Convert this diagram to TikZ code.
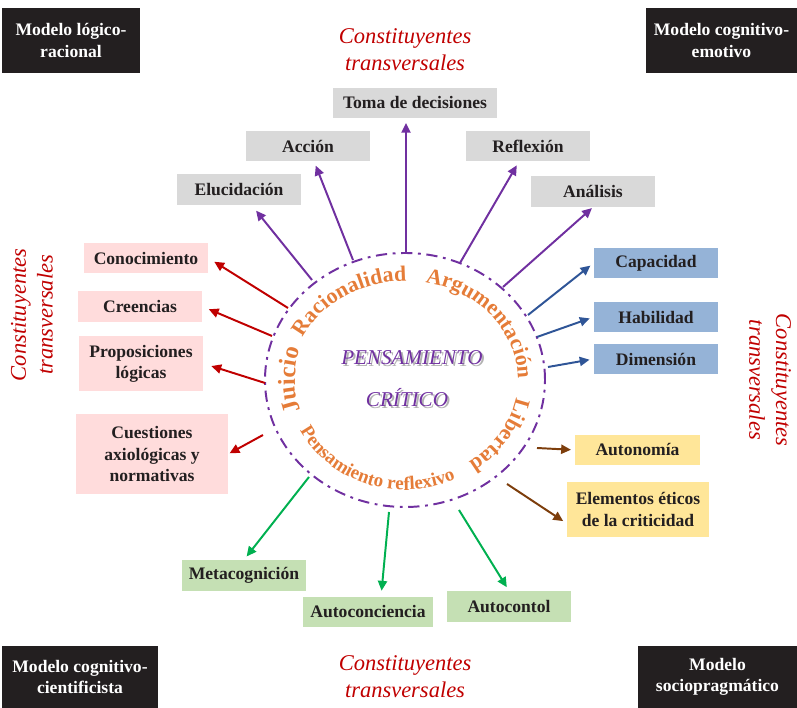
\documentclass[tikz,border=0pt]{standalone}
\usepackage{fontspec}
\setmainfont{Liberation Serif}
\usetikzlibrary{arrows.meta,calc,decorations.text}
\definecolor{boxtext}{HTML}{231F20}
\definecolor{modelfill}{HTML}{231F20}
\definecolor{greyfill}{HTML}{D9D9D9}
\definecolor{pinkfill}{RGB}{255,220,220}
\definecolor{bluefill}{RGB}{149,179,215}
\definecolor{yellowfill}{RGB}{255,230,153}
\definecolor{greenfill}{RGB}{197,224,180}
\definecolor{purp}{HTML}{7030A0}
\definecolor{redline}{HTML}{C00000}
\definecolor{blueline}{HTML}{2F5597}
\definecolor{brownline}{RGB}{125,62,12}
\definecolor{greenline}{HTML}{00B050}
\definecolor{orng}{RGB}{229,124,56}
\newcommand\arcfont{\fontsize{15.5}{16}\selectfont\bfseries}
\newcommand\arcbig{\fontsize{17.5}{18}\selectfont\bfseries}
\newcommand\arcsmall{\fontsize{13.5}{14}\selectfont\bfseries}
\tikzset{
    modelbox/.style={
        rectangle, fill=modelfill, text=white, align=center,
        font=\fontsize{12.5}{15}\selectfont\bfseries, inner sep=0pt
    },
    arctext/.style={
        decorate, decoration={text along path, text align=center,
        text color=orng, text={#1}}
    }
}

\begin{document}
\begin{tikzpicture}[
        x=0.025cm, y=0.025cm,
        box/.style={
            rectangle, inner sep=0pt, align=center, text=boxtext,
            font=\fontsize{12.5}{15}\selectfont\bfseries,
            minimum width=3.1cm, minimum height=0.77cm
        },
        greybox/.style={box, fill=greyfill},
        pinkbox/.style={box, fill=pinkfill},
        bluebox/.style={box, fill=bluefill},
        yellowbox/.style={box, fill=yellowfill},
        greenbox/.style={box, fill=greenfill},
        link/.style={line width=1.4pt, -{Triangle[length=7pt,width=6.5pt]}, shorten >=3pt},
        trans/.style={text=redline, font=\fontsize{16}{19}\selectfont\itshape, align=center},
        ctext/.style={text=purp, font=\fontsize{15}{15}\selectfont\itshape}
      ]
  \useasboundingbox (0,0) rectangle (797,708);

  \coordinate (pc) at (405,328);
  \draw[purp, line width=1.4pt, dash pattern=on 8pt off 4pt on 2pt off 4pt]
    (pc) ellipse [x radius=140, y radius=127];

  \node[modelbox, minimum width=3.45cm, minimum height=1.62cm] (mlr) at (71,667.5) {Modelo lógico-\\racional};
  \node[modelbox, minimum width=3.78cm, minimum height=1.62cm] (mce) at (721.5,667.5) {Modelo cognitivo-\\emotivo};
  \node[modelbox, minimum width=3.9cm, minimum height=1.55cm] (mcc) at (80,31) {Modelo cognitivo-\\cientificista};
  \node[modelbox, minimum width=3.98cm, minimum height=1.55cm] (msp) at (717.5,31) {Modelo\\sociopragmático};

  \node[trans] (tr-top) at (405,658) {Constituyentes\\transversales};
  \node[trans] (tr-bot) at (405,31) {Constituyentes\\transversales};
  \node[trans, rotate=90] (tr-left) at (32,393) {Constituyentes\\transversales};
  \node[trans, rotate=-90] (tr-right) at (770,328) {Constituyentes\\transversales};

  \node[greybox, minimum width=4.12cm] (toma) at (415,605) {Toma de decisiones};
  \node[greybox] (accion) at (308,562) {Acción};
  \node[greybox] (reflex) at (528,562) {Reflexión};
  \node[greybox] (eluc) at (239,518.5) {Elucidación};
  \node[greybox] (anal) at (593,516.5) {Análisis};

  \node[pinkbox] (conoc) at (146,450) {Conocimiento};
  \node[pinkbox] (creen) at (140,401.5) {Creencias};
  \node[pinkbox, minimum height=1.38cm] (propos) at (141,344.5) {Proposiciones\\lógicas};
  \node[pinkbox, minimum width=3.8cm, minimum height=2cm] (cuest) at (152,254) {Cuestiones\\axiológicas y\\normativas};

  \node[bluebox] (capac) at (656,445) {Capacidad};
  \node[bluebox] (habil) at (656,391) {Habilidad};
  \node[bluebox] (dimens) at (656,349) {Dimensión};

  \node[yellowbox] (auton) at (637.5,258) {Autonomía};
  \node[yellowbox, minimum width=3.55cm, minimum height=1.38cm] (etic) at (638,198.5) {Elementos éticos\\de la criticidad};

  \node[greenbox] (metac) at (244,132.5) {Metacognición};
  \node[greenbox, minimum width=3.25cm] (aconc) at (368,96) {Autoconciencia};
  \node[greenbox] (acont) at (509,101.5) {Autocontol};

  \node[ctext, text=black!30] (pens-sh) at (414,348) {PENSAMIENTO};
  \node[ctext] (pens) at (412,350) {PENSAMIENTO};
  \node[ctext, text=black!30] (crit-sh) at (409,308) {CRÍTICO};
  \node[ctext] (crit) at (407,310) {CRÍTICO};

  \path[arctext={|\arcbig|Juicio}]
    ($(pc)+(215:110 and 99)$) arc[start angle=215, end angle=145, x radius=110, y radius=99];
  \path[arctext={|\arcfont|Racionalidad}]
    ($(pc)+(175:113 and 99)$) arc[start angle=175, end angle=71, x radius=113, y radius=99];
  \path[arctext={|\arcfont|Argumentación}]
    ($(pc)+(97:113 and 99)$) arc[start angle=97, end angle=-19, x radius=113, y radius=99];
  \path[arctext={|\arcfont|Libertad}]
    ($(pc)+(10:113 and 99)$) arc[start angle=10, end angle=-74, x radius=113, y radius=99];
  \path[arctext={|\arcsmall|Pensamiento reflexivo}]
    ($(pc)+(-172:118 and 110)$) arc[start angle=-172, end angle=-46, x radius=118, y radius=110];

  \coordinate (s-eluc) at (312,428);
  \coordinate (s-accion) at (353,448);
  \coordinate (s-toma) at (406,456);
  \coordinate (s-reflex) at (460,445);
  \coordinate (s-anal) at (503,421);
  \coordinate (s-capac) at (528,393);
  \coordinate (s-habil) at (537,371);
  \coordinate (s-dimens) at (548,341);
  \coordinate (s-auton) at (537,260);
  \coordinate (s-etic) at (507,224);
  \coordinate (s-conoc) at (288,400);
  \coordinate (s-creen) at (272,372);
  \coordinate (s-propos) at (265,325);
  \coordinate (s-cuest) at (263,273);
  \coordinate (s-metac) at (309,231);
  \coordinate (s-aconc) at (389,196);
  \coordinate (s-acont) at (459,198);

  \draw[link, purp, shorten >=5pt] (s-eluc) -- (eluc);
  \draw[link, purp] (s-accion) -- (accion);
  \draw[link, purp] (s-toma) -- (s-toma |- toma.south);
  \draw[link, purp] (s-reflex) -- (reflex);
  \draw[link, purp, shorten >=1pt] (s-anal) -- (anal.south);

  \draw[link, blueline] (s-capac) -- (capac.west);
  \draw[link, blueline] (s-habil) -- (habil.west);
  \draw[link, blueline] (s-dimens) -- (dimens.west);

  \draw[link, brownline] (s-auton) -- (auton.west);
  \draw[link, brownline] (s-etic) -- ($(etic.west)!.5!(etic.south west)$);

  \draw[link, redline, shorten >=5pt] (s-conoc) -- (conoc.east);
  \draw[link, redline, shorten >=5pt] (s-creen) -- (creen.east);
  \draw[link, redline, shorten >=6pt] (s-propos) -- (propos.east);
  \draw[link, redline, shorten >=1pt] (s-cuest) -- (cuest.east);

  \draw[link, greenline] (s-metac) -- (metac.north);
  \draw[link, greenline, shorten >=4pt] (s-aconc) -- ($(aconc.north)!.2!(aconc.north east)$);
  \draw[link, greenline] (s-acont) -- (acont.north);

\end{tikzpicture}
\end{document}
